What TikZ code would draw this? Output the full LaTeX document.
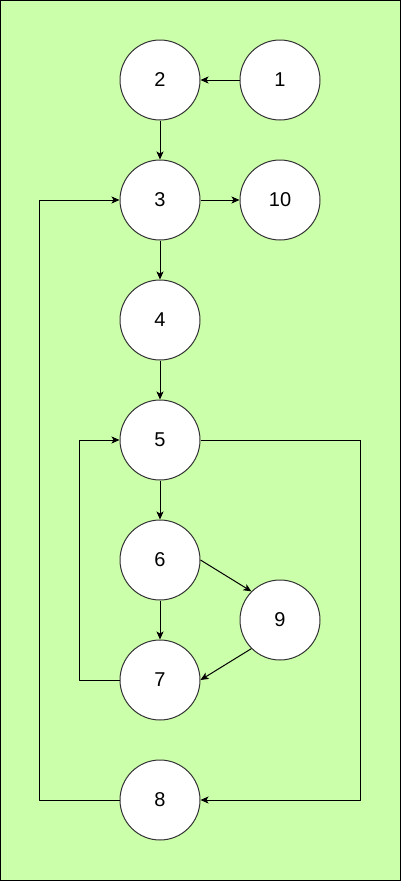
\documentclass[tikz,border=0pt]{standalone}
\usepackage{fontspec}
\setmainfont{Liberation Sans}
\usetikzlibrary{arrows.meta}

\definecolor{panelgreen}{HTML}{CCFFAA}
\definecolor{ringgray}{HTML}{333333}

\tikzset{
	vertex/.style={shape=circle,draw=ringgray,fill=white,line width=1pt,
		minimum size=80pt,inner sep=0pt,font=\fontsize{20}{24}\selectfont},
	flow/.style={line width=1pt,-{Stealth[length=8pt,width=7pt,inset=2pt]}}
}

\begin{document}
\begin{tikzpicture}[x=1pt,y=-1pt]
	
	\useasboundingbox (0,0) rectangle (401,881);
	\draw[fill=panelgreen,line width=1pt] (0.5,0.5) rectangle (400.5,880.5);
	
	\node[vertex] (n1)  at (280, 80)  {1};
	\node[vertex] (n2)  at (160, 80)  {2};
	\node[vertex] (n3)  at (160, 200) {3};
	\node[vertex] (n10) at (280, 200) {10};
	\node[vertex] (n4)  at (160, 320) {4};
	\node[vertex] (n5)  at (160, 440) {5};
	\node[vertex] (n6)  at (160, 560) {6};
	\node[vertex] (n9)  at (280, 620) {9};
	\node[vertex] (n7)  at (160, 680) {7};
	\node[vertex] (n8)  at (160, 800) {8};
	
	\draw[flow] (n1) -- (n2);
	\draw[flow] (n2) -- (n3);
	\draw[flow] (n3) -- (n10);
	\draw[flow] (n3) -- (n4);
	\draw[flow] (n4) -- (n5);
	\draw[flow] (n5) -- (n6);
	\draw[flow] (n6) -- (n7);
	\draw[flow] (n6.east) -- (n9.north west);
	\draw[flow] (n9.south west) -- (n7.east);
	\draw[flow] (n5.east) -- ++(160,0) |- (n8.east);
	\draw[flow] (n8.west) -- ++(-80,0) |- (n3.west);
	\draw[flow] (n7.west) -- ++(-40,0) |- (n5.west);
	
\end{tikzpicture}
\end{document}
